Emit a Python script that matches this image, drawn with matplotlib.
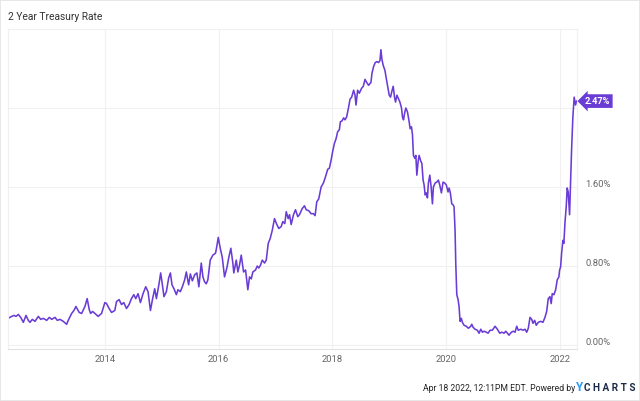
import pandas as pd
import matplotlib
matplotlib.use("Agg")
import matplotlib.pyplot as plt
from matplotlib.patches import Rectangle
from matplotlib.transforms import ScaledTranslation, blended_transform_factory

plt.rcParams["font.family"] = ["Roboto", "DejaVu Sans"]

# =========================
# Data (decimal year, 2Y treasury rate in %)
# =========================
years_2012_13 = [2012.298, 2012.363, 2012.404, 2012.439, 2012.479, 2012.521, 2012.567, 2012.614,
                 2012.654, 2012.684, 2012.725, 2012.772, 2012.830, 2012.872, 2012.918, 2012.977,
                 2013.023, 2013.065, 2013.123, 2013.163, 2013.211, 2013.268, 2013.328, 2013.356,
                 2013.416, 2013.456, 2013.491, 2013.521, 2013.549, 2013.591, 2013.649, 2013.689,
                 2013.725, 2013.749, 2013.784, 2013.825, 2013.882, 2013.942]
rates_2012_13 = [0.27, 0.29, 0.30, 0.29, 0.31, 0.28, 0.23, 0.30,
                 0.25, 0.23, 0.26, 0.24, 0.29, 0.26, 0.27, 0.25,
                 0.28, 0.26, 0.28, 0.25, 0.26, 0.24, 0.21, 0.25,
                 0.32, 0.35, 0.39, 0.36, 0.33, 0.32, 0.39, 0.47,
                 0.36, 0.32, 0.34, 0.32, 0.29, 0.32]

years_2014_15 = [2014.000, 2014.030, 2014.075, 2014.118, 2014.175, 2014.205, 2014.251, 2014.293,
                 2014.333, 2014.381, 2014.426, 2014.468, 2014.509, 2014.544, 2014.584, 2014.626,
                 2014.672, 2014.719, 2014.760, 2014.802, 2014.837, 2014.877, 2014.907, 2014.953,
                 2014.982, 2015.012, 2015.040, 2015.082, 2015.123, 2015.153, 2015.181, 2015.216,
                 2015.258, 2015.286, 2015.328, 2015.363, 2015.404, 2015.433, 2015.474, 2015.504,
                 2015.539, 2015.579, 2015.619, 2015.654, 2015.696, 2015.725, 2015.754, 2015.784,
                 2015.812, 2015.854, 2015.900, 2015.947, 2015.970, 2015.995]
rates_2014_15 = [0.43, 0.42, 0.37, 0.33, 0.35, 0.44, 0.46, 0.41,
                 0.43, 0.37, 0.41, 0.47, 0.51, 0.47, 0.52, 0.43,
                 0.52, 0.59, 0.54, 0.35, 0.46, 0.57, 0.47, 0.62,
                 0.73, 0.61, 0.49, 0.54, 0.68, 0.73, 0.61, 0.57,
                 0.51, 0.56, 0.54, 0.59, 0.66, 0.74, 0.61, 0.72,
                 0.65, 0.71, 0.73, 0.59, 0.83, 0.69, 0.64, 0.62,
                 0.66, 0.86, 0.91, 0.93, 1.00, 1.09]

years_2016_17 = [2016.030, 2016.065, 2016.105, 2016.146, 2016.181, 2016.216, 2016.251, 2016.268,
                 2016.311, 2016.339, 2016.368, 2016.398, 2016.439, 2016.474, 2016.514, 2016.544,
                 2016.574, 2016.602, 2016.649, 2016.679, 2016.707, 2016.737, 2016.767, 2016.807,
                 2016.837, 2016.872, 2016.907, 2016.942, 2016.982, 2017.023, 2017.058, 2017.100,
                 2017.128, 2017.163, 2017.188, 2017.223, 2017.246, 2017.275, 2017.316, 2017.351,
                 2017.391, 2017.421, 2017.468, 2017.509, 2017.539, 2017.584, 2017.626, 2017.667,
                 2017.696, 2017.725, 2017.760, 2017.802, 2017.842, 2017.877, 2017.918, 2017.947,
                 2017.977]
rates_2016_17 = [0.98, 0.89, 0.69, 0.78, 0.89, 0.98, 0.83, 0.73,
                 0.86, 0.74, 0.81, 0.91, 0.74, 0.76, 0.56, 0.69,
                 0.67, 0.74, 0.76, 0.80, 0.78, 0.81, 0.86, 0.83,
                 0.86, 1.03, 1.08, 1.16, 1.28, 1.22, 1.18, 1.20,
                 1.25, 1.23, 1.35, 1.28, 1.32, 1.22, 1.32, 1.37,
                 1.30, 1.32, 1.38, 1.41, 1.37, 1.36, 1.33, 1.33,
                 1.31, 1.45, 1.48, 1.60, 1.64, 1.70, 1.78, 1.79,
                 1.87]

years_2018_19 = [2018.005, 2018.035, 2018.065, 2018.093, 2018.123, 2018.140, 2018.170, 2018.198,
                 2018.223, 2018.251, 2018.286, 2018.311, 2018.339, 2018.374, 2018.398, 2018.416,
                 2018.444, 2018.474, 2018.514, 2018.544, 2018.574, 2018.602, 2018.637, 2018.679,
                 2018.696, 2018.725, 2018.754, 2018.784, 2018.812, 2018.837, 2018.854, 2018.872,
                 2018.895, 2018.925, 2018.942, 2018.970, 2019.000, 2019.023, 2019.047, 2019.070,
                 2019.093, 2019.111, 2019.135, 2019.158, 2019.188, 2019.216, 2019.233, 2019.251,
                 2019.275, 2019.293, 2019.321, 2019.351, 2019.368, 2019.391, 2019.409, 2019.426,
                 2019.451, 2019.468, 2019.486, 2019.509, 2019.526, 2019.556, 2019.574, 2019.596,
                 2019.614, 2019.632, 2019.654, 2019.672, 2019.689, 2019.714, 2019.737, 2019.760,
                 2019.777, 2019.807, 2019.837, 2019.865, 2019.889, 2019.918, 2019.947, 2019.977]
rates_2018_19 = [1.96, 2.04, 2.09, 2.16, 2.18, 2.26, 2.27, 2.30,
                 2.28, 2.31, 2.41, 2.49, 2.51, 2.58, 2.53, 2.43,
                 2.58, 2.55, 2.60, 2.62, 2.69, 2.66, 2.63, 2.66,
                 2.75, 2.82, 2.86, 2.87, 2.86, 2.88, 2.99, 2.89,
                 2.83, 2.78, 2.72, 2.63, 2.53, 2.51, 2.57, 2.62,
                 2.51, 2.46, 2.53, 2.50, 2.46, 2.40, 2.31, 2.28,
                 2.36, 2.40, 2.36, 2.26, 2.19, 2.21, 2.13, 1.92,
                 1.89, 1.92, 1.72, 1.86, 1.92, 1.86, 1.84, 1.67,
                 1.62, 1.52, 1.54, 1.49, 1.64, 1.72, 1.60, 1.43,
                 1.60, 1.64, 1.65, 1.67, 1.62, 1.54, 1.65, 1.64]

years_2020_21 = [2020.005, 2020.035, 2020.053, 2020.075, 2020.100, 2020.123, 2020.140, 2020.158,
                 2020.170, 2020.188, 2020.211, 2020.228, 2020.246, 2020.268, 2020.286, 2020.316,
                 2020.356, 2020.391, 2020.433, 2020.451, 2020.474, 2020.509, 2020.549, 2020.579,
                 2020.609, 2020.637, 2020.667, 2020.707, 2020.737, 2020.772, 2020.812, 2020.860,
                 2020.900, 2020.942, 2020.977, 2021.018, 2021.047, 2021.075, 2021.105, 2021.146,
                 2021.181, 2021.211, 2021.240, 2021.268, 2021.311, 2021.351, 2021.386, 2021.416,
                 2021.444, 2021.474, 2021.504, 2021.526, 2021.556, 2021.584, 2021.619, 2021.661,
                 2021.702, 2021.737, 2021.767, 2021.795, 2021.825, 2021.847, 2021.865, 2021.895,
                 2021.925, 2021.953, 2021.982, 2021.995]
rates_2020_21 = [1.62, 1.55, 1.59, 1.54, 1.43, 1.42, 1.40, 1.16,
                 0.83, 0.51, 0.46, 0.39, 0.24, 0.27, 0.23, 0.20,
                 0.19, 0.17, 0.19, 0.21, 0.18, 0.16, 0.15, 0.12,
                 0.16, 0.13, 0.14, 0.13, 0.12, 0.15, 0.15, 0.19,
                 0.16, 0.12, 0.13, 0.12, 0.14, 0.12, 0.10, 0.13,
                 0.14, 0.13, 0.19, 0.15, 0.16, 0.15, 0.16, 0.13,
                 0.17, 0.28, 0.26, 0.22, 0.25, 0.20, 0.23, 0.24,
                 0.23, 0.28, 0.34, 0.47, 0.49, 0.42, 0.52, 0.51,
                 0.56, 0.66, 0.69, 0.76]

years_2022 = [2022.012, 2022.030, 2022.053, 2022.070, 2022.088, 2022.111, 2022.128, 2022.146,
              2022.158, 2022.170, 2022.188, 2022.205, 2022.228, 2022.251, 2022.275, 2022.293]
rates_2022 = [0.79, 0.93, 1.06, 1.03, 1.23, 1.40, 1.59, 1.55,
              1.43, 1.32, 1.64, 1.97, 2.31, 2.51, 2.43, 2.47]

y_ticks = [0.0, 0.8, 1.6, 2.4]
y_tick_labels = ["0.00%", "0.80%", "1.60%", ""]
x_tick_years = [2014, 2016, 2018, 2020, 2022]

TITLE = "2 Year Treasury Rate"
FOOTER = "Apr 18 2022, 12:11PM EDT. Powered by"
LINE_COLOR = "#6a3cd6"


def decimal_year_to_date(y):
    year = int(y)
    start = pd.Timestamp(year=year, month=1, day=1)
    end = pd.Timestamp(year=year + 1, month=1, day=1)
    return start + (end - start) * (y - year)


years = years_2012_13 + years_2014_15 + years_2016_17 + years_2018_19 + years_2020_21 + years_2022
rates = rates_2012_13 + rates_2014_15 + rates_2016_17 + rates_2018_19 + rates_2020_21 + rates_2022
df = pd.DataFrame({"date": [decimal_year_to_date(y) for y in years], "rate": rates})

# =========================
# Plot
# =========================
fig = plt.figure(figsize=(6.4, 4.01), dpi=100)
ax = fig.add_axes([0.0125, 0.1297, 0.889, 0.798])

ax.plot(df["date"], df["rate"], color=LINE_COLOR, linewidth=1.15)

ax.set_xlim(decimal_year_to_date(2012.298), decimal_year_to_date(2022.30))
ax.set_ylim(-0.04, 3.2)

ax.set_xticks([pd.Timestamp(year=y, month=1, day=1) for y in x_tick_years])
ax.set_xticklabels([str(y) for y in x_tick_years])
ax.set_yticks(y_ticks)
ax.set_yticklabels(y_tick_labels)

ax.yaxis.tick_right()
ax.tick_params(axis="both", length=0, labelsize=6.8, labelcolor="#666666")
ax.tick_params(axis="y", pad=6)
ax.tick_params(axis="x", pad=4)
for lbl in ax.get_yticklabels():
    lbl.set_transform(lbl.get_transform() + ScaledTranslation(0, 2.5 / 72, fig.dpi_scale_trans))

ax.grid(True, color="#f0f0f0", linewidth=0.8)
ax.set_axisbelow(True)
for side in ["top", "left", "right"]:
    ax.spines[side].set_color("#f0f0f0")
    ax.spines[side].set_linewidth(0.8)
ax.spines["bottom"].set_color("#e2e2e2")
ax.spines["bottom"].set_linewidth(0.8)

# last value flag
last_rate = df["rate"].iloc[-1]
trans = blended_transform_factory(ax.transAxes, ax.transData)
ax.text(1.014, last_rate, f"{last_rate:.2f}%", transform=trans, color="white",
        fontsize=6.7, fontweight="bold", va="center", ha="left",
        bbox=dict(boxstyle="larrow,pad=0.25", fc=LINE_COLOR, ec="none"))

# title and footer
fig.text(8 / 640, 1 - 17 / 401, TITLE, fontsize=7.4, color="#333333", va="center", ha="left")
fig.text(575 / 640, 1 - 391 / 401, FOOTER, fontsize=6.2, color="#222222", va="baseline", ha="right")
fig.text(576 / 640, 1 - 391 / 401, "Y", fontsize=8.5, fontweight="bold", color="#2a9df4",
         va="baseline", ha="left")
fig.text(584 / 640, 1 - 391 / 401, "C H A R T S", fontsize=7.2, fontweight="bold", color="#1b2a47",
         va="baseline", ha="left")

fig.patches.append(Rectangle((0, 0), 1, 1, transform=fig.transFigure, fill=False,
                             edgecolor="#e3e3e3", linewidth=1.2))

fig.savefig("out.png", dpi=100)
